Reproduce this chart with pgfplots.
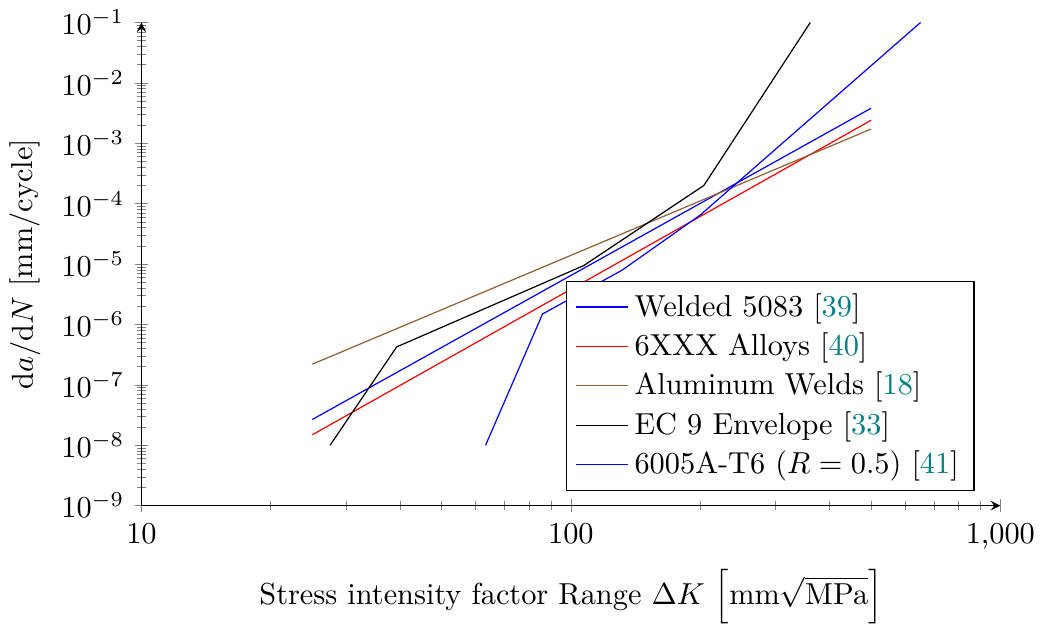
\documentclass[border=0pt]{standalone}
\usepackage{pgfplots}
\pgfplotsset{compat=1.18}
\definecolor{citeteal}{RGB}{0,128,128}
\newcommand{\cit}[1]{[\textcolor{citeteal}{#1}]}

\begin{document}
\begin{tikzpicture}
\begin{axis}[
  scale only axis,
  width=283pt,
  height=159.2pt,
  xmode=log,
  ymode=log,
  xmin=10, xmax=1000,
  ymin=1e-9, ymax=1e-1,
  axis lines=left,
  tick align=center,
  xtick={10,100,1000},
  xticklabels={10,100,{1,000}},
  ytick={1e-9,1e-8,1e-7,1e-6,1e-5,1e-4,1e-3,1e-2,1e-1},
  xlabel={Stress intensity factor Range $\Delta K$ $\left[\mathrm{mm}\sqrt{\mathrm{MPa}}\right]$},
  ylabel={$\mathrm{d}a/\mathrm{d}N$ [mm/cycle]},
  legend pos=south east,
  legend cell align=left,
]
\addplot[blue] coordinates {(25,2.67e-8) (500,3.8e-3)};
\addlegendentry{Welded 5083 \cit{39}}
\addplot[red] coordinates {(25,1.49e-8) (500,2.4e-3)};
\addlegendentry{6XXX Alloys \cit{40}}
\addplot[brown!75!black] coordinates {(25,2.2e-7) (500,1.72e-3)};
\addlegendentry{Aluminum Welds \cit{18}}
\addplot[black] coordinates {(27.5,1e-8) (39.3,4.25e-7) (107,9.4e-6) (204,2e-4) (361,0.1)};
\addlegendentry{EC 9 Envelope \cit{33}}
\addplot[blue] coordinates {(63.3,1e-8) (85.9,1.49e-6) (131.5,7.9e-6) (200,6.46e-5) (652,0.1)};
\addlegendentry{6005A-T6 ($R=0.5$) \cit{41}}
\end{axis}
\end{tikzpicture}
\end{document}
